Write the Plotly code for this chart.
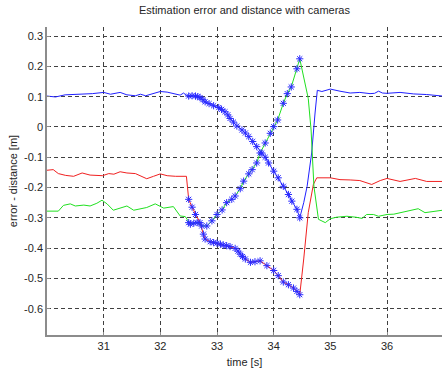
import plotly.graph_objects as go

# ---- data ----
t_blue = [30.0, 30.15, 30.32, 30.5, 30.65, 30.8, 31.0, 31.12, 31.29, 31.41, 31.56, 31.65, 31.74, 31.85,
          32.0, 32.12, 32.23, 32.35, 32.41, 32.46,
          32.5, 32.56, 32.62, 32.66, 32.70, 32.75, 32.79, 32.86, 32.94, 33.03, 33.08, 33.14, 33.19, 33.23,
          33.29, 33.35, 33.44, 33.50, 33.56, 33.63, 33.70, 33.79, 33.85, 33.91, 34.0, 34.08, 34.17, 34.26,
          34.32, 34.41, 34.46,
          34.53, 34.59, 34.67, 34.73, 34.77, 34.85, 35.0, 35.17, 35.35, 35.52, 35.70, 35.78, 35.85, 35.92,
          36.0, 36.23, 36.47, 36.70, 36.98]
v_blue = [0.102, 0.099, 0.106, 0.107, 0.108, 0.110, 0.114, 0.108, 0.114, 0.106, 0.103, 0.108, 0.103, 0.110,
          0.117, 0.115, 0.110, 0.105, 0.112, 0.104,
          0.102, 0.103, 0.102, 0.100, 0.097, 0.090, 0.083, 0.077, 0.070, 0.064, 0.058, 0.050, 0.040, 0.028,
          0.016, 0.003, -0.010, -0.020, -0.032, -0.048, -0.065, -0.086, -0.100, -0.119, -0.146, -0.168, -0.196, -0.223,
          -0.245, -0.272, -0.300,
          -0.250, -0.196, -0.086, 0.046, 0.121, 0.117, 0.125, 0.118, 0.112, 0.114, 0.110, 0.111, 0.118, 0.112,
          0.111, 0.114, 0.109, 0.107, 0.102]

t_red = [30.0, 30.11, 30.2, 30.33, 30.47, 30.62, 30.76, 30.98, 31.09, 31.18, 31.29, 31.41, 31.56, 31.66,
         31.76, 31.88, 32.0, 32.12, 32.27, 32.46,
         32.5, 32.56, 32.62, 32.70, 32.76, 32.79, 32.88, 32.94, 33.0, 33.06, 33.11, 33.17, 33.23, 33.32,
         33.37, 33.41, 33.45, 33.50, 33.59, 33.67, 33.76, 33.88, 34.0, 34.08, 34.17, 34.26, 34.35, 34.41, 34.46,
         34.53, 34.61, 34.70, 34.76, 35.0, 35.17, 35.35, 35.52, 35.73, 35.88, 36.0, 36.12, 36.23, 36.5,
         36.70, 36.98]
v_red = [-0.143, -0.141, -0.154, -0.160, -0.163, -0.152, -0.159, -0.161, -0.154, -0.156, -0.148, -0.152, -0.154, -0.162,
         -0.171, -0.163, -0.155, -0.161, -0.163, -0.163,
         -0.239, -0.265, -0.289, -0.316, -0.354, -0.370, -0.379, -0.382, -0.384, -0.387, -0.390, -0.392, -0.395, -0.401,
         -0.410, -0.420, -0.428, -0.436, -0.447, -0.445, -0.442, -0.458, -0.474, -0.491, -0.512, -0.521, -0.532, -0.543, -0.554,
         -0.436, -0.283, -0.190, -0.168, -0.168, -0.174, -0.175, -0.177, -0.190, -0.177, -0.170, -0.176, -0.180, -0.170,
         -0.180, -0.180]

t_green = [30.0, 30.2, 30.29, 30.41, 30.5, 30.65, 30.76, 30.88, 30.97, 31.06, 31.17, 31.29, 31.41, 31.53,
           31.76, 31.91, 32.06, 32.23, 32.35, 32.44,
           32.5, 32.53, 32.59, 32.65, 32.73, 32.82, 32.91, 33.0, 33.09, 33.17, 33.26, 33.32, 33.41, 33.47,
           33.56, 33.62, 33.70, 33.76, 33.85, 33.94, 34.0, 34.07, 34.17, 34.24, 34.31, 34.41, 34.46,
           34.61, 34.66, 34.71, 34.79, 34.91, 35.0, 35.11, 35.29, 35.45, 35.56, 35.64, 35.76, 35.85, 36.0,
           36.12, 36.35, 36.55, 36.67, 36.98]
v_green = [-0.278, -0.278, -0.259, -0.254, -0.261, -0.258, -0.261, -0.252, -0.242, -0.254, -0.275, -0.268, -0.261, -0.275,
           -0.266, -0.254, -0.268, -0.263, -0.294, -0.296,
           -0.316, -0.321, -0.318, -0.316, -0.327, -0.327, -0.310, -0.289, -0.274, -0.250, -0.239, -0.228, -0.204, -0.179,
           -0.155, -0.141, -0.119, -0.086, -0.053, -0.021, 0.001, 0.023, 0.078, 0.110, 0.132, 0.192, 0.225,
           0.094, -0.010, -0.196, -0.305, -0.316, -0.303, -0.298, -0.295, -0.298, -0.302, -0.289, -0.289, -0.295, -0.289,
           -0.288, -0.278, -0.270, -0.283, -0.275]

camera_window = [32.49, 34.47]
x_ticks = [31, 32, 33, 34, 35, 36]
y_ticks = [-0.6, -0.5, -0.4, -0.3, -0.2, -0.1, 0, 0.1, 0.2, 0.3]
y_tick_text = ["-0.6", "-0.5", "-0.4", "-0.3", "-0.2", "-0.1", "0", "0.1", "0.2", "0.3"]

FONT = "Liberation Sans, Arial, sans-serif"
TXT = "#262626"

fig = go.Figure()
for t, v, col in [(t_blue, v_blue, "#2020ff"), (t_red, v_red, "#f02020"), (t_green, v_green, "#20e020")]:
    fig.add_trace(go.Scatter(x=t, y=v, mode="lines", line=dict(color=col, width=1), showlegend=False))

for t, v in [(t_blue, v_blue), (t_red, v_red), (t_green, v_green)]:
    st = [a for a in t if camera_window[0] <= a <= camera_window[1]]
    sv = [b for a, b in zip(t, v) if camera_window[0] <= a <= camera_window[1]]
    fig.add_trace(go.Scatter(x=st, y=sv, mode="markers",
                             marker=dict(symbol="asterisk-open", size=6, color="#2a2aff",
                                         line=dict(color="#2a2aff", width=1)),
                             showlegend=False))

axis_common = dict(
    showgrid=True, gridcolor="#404040", gridwidth=1, griddash="4px,3px",
    zeroline=False, showline=True, linecolor="#8c8c8c", linewidth=1.5,
    ticks="inside", ticklen=3, tickcolor="#8c8c8c", mirror=False,
    tickfont=dict(family=FONT, size=11, color=TXT),
)

fig.update_layout(
    width=446, height=371,
    margin=dict(l=47, r=4, t=27, b=34),
    paper_bgcolor="white", plot_bgcolor="white",
    title=dict(text="Estimation error and distance with cameras", x=0.5, xref="paper",
               y=1 - 10.5 / 371, yref="container", yanchor="middle", xanchor="center",
               font=dict(family=FONT, size=11, color=TXT)),
    xaxis=dict(range=[30.0, 36.97], tickvals=x_ticks, ticktext=[str(x) for x in x_ticks],
               title=dict(text="time [s]", standoff=7, font=dict(family=FONT, size=11, color=TXT)),
               **axis_common),
    yaxis=dict(range=[-0.687, 0.33], tickvals=y_ticks, ticktext=y_tick_text,
               title=dict(text="error - distance [m]", standoff=4, font=dict(family=FONT, size=11, color=TXT)),
               **axis_common),
)

fig.write_html("out.html")
